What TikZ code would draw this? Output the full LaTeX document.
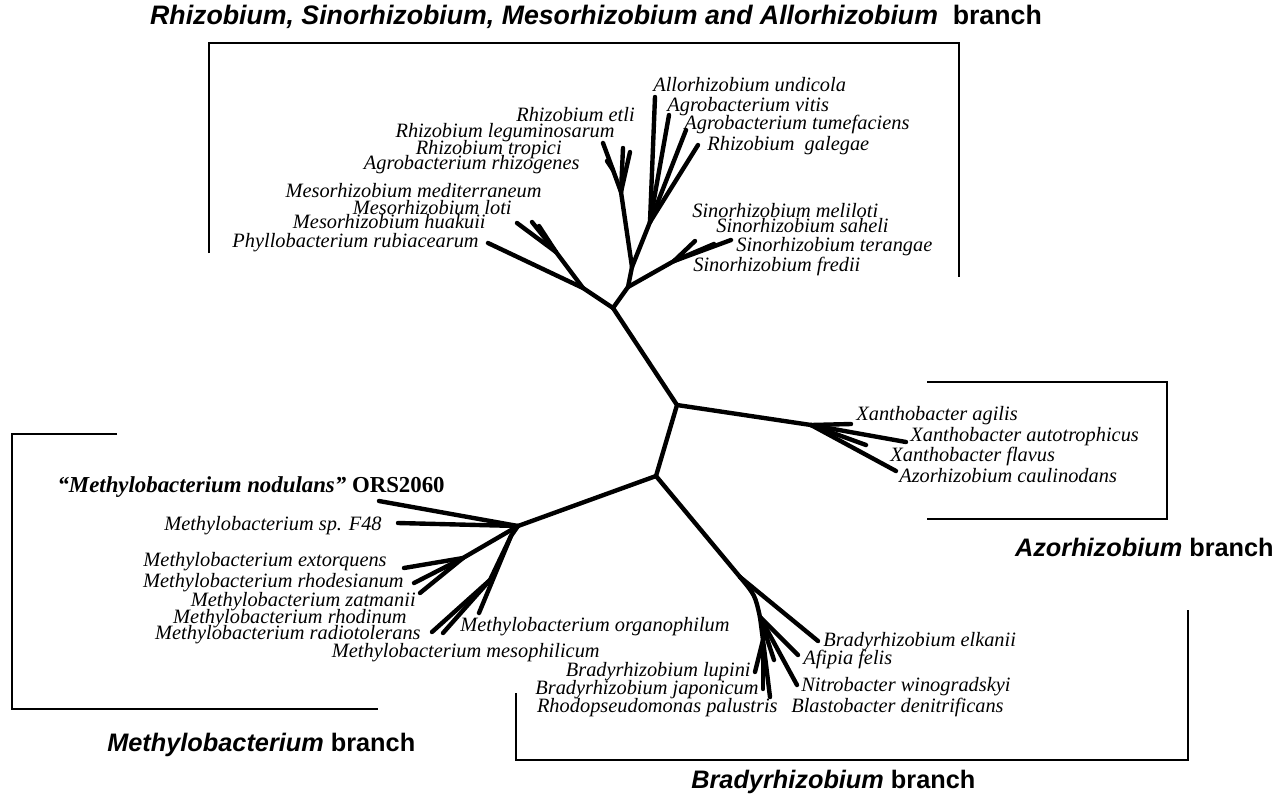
\documentclass[tikz,border=0pt]{standalone}
\usepackage{fontspec}
\setmainfont{Liberation Serif}
\setsansfont{Liberation Sans}
\begin{document}
\begin{tikzpicture}[x=0.02cm,y=-0.02cm,
  br/.style={line width=2.5pt, line cap=round, line join=round},
  box/.style={line width=0.8pt},
  lbl/.style={font=\fontsize{11.6}{12}\selectfont\itshape, inner sep=0pt},
  lL/.style={lbl, anchor=mid east},
  lR/.style={lbl, anchor=mid west},
  ttl/.style={font=\fontsize{14.4}{15}\selectfont\sffamily\bfseries, inner sep=0pt}]
\useasboundingbox (0,0) rectangle (1275,796);
% ---------- tree coordinates ----------
\coordinate (A) at (613,308);
\coordinate (Mj) at (583,288);
\coordinate (Ms) at (556,252);
\coordinate (Sn) at (628,287);
\coordinate (Rn) at (632,267);
\coordinate (Ej) at (621,192);
\coordinate (Es) at (613,170);
\coordinate (Ag) at (650,222);
\coordinate (Sj) at (674,261);
\coordinate (B) at (677,405);
\coordinate (X) at (811,425);
\coordinate (C) at (656,476);
\coordinate (D) at (518,526);
\coordinate (Dm) at (511,536);
\coordinate (Ex) at (463,558);
\coordinate (Rj) at (490,580);
\coordinate (N1) at (740,577);
\coordinate (N2) at (760,617);
\coordinate (N3) at (763,640);
% tips
\coordinate (tPhy) at (488,243);
\coordinate (tMe1) at (517,223);
\coordinate (tMe2) at (532,222);
\coordinate (tMe3) at (539,226);
\coordinate (tEt) at (603,143);
\coordinate (tLe) at (607,161);
\coordinate (tTr) at (623,148);
\coordinate (tRh) at (630,152);
\coordinate (tAl) at (655,97);
\coordinate (tVi) at (669,115);
\coordinate (tTu) at (686,130);
\coordinate (tGa) at (698,145);
\coordinate (tSm) at (695,241);
\coordinate (tSs) at (714,244);
\coordinate (tSt) at (731,240);
\coordinate (tXa) at (851,424);
\coordinate (tXu) at (906,442);
\coordinate (tXf) at (866,445);
\coordinate (tAz) at (896,471);
\coordinate (tOR) at (379,501);
\coordinate (tF4) at (398,523);
\coordinate (tEx) at (404,568);
\coordinate (tRd) at (414,583);
\coordinate (tZa) at (420,593);
\coordinate (tRo) at (432,632);
\coordinate (tRa) at (443,633);
\coordinate (tOr) at (479,613);
\coordinate (tEl) at (818,641);
\coordinate (tAf) at (798,655);
\coordinate (tNi) at (797,685);
\coordinate (tBl) at (774,660);
\coordinate (tLu) at (755,672);
\coordinate (tJa) at (763,689);
\coordinate (tPa) at (770,697);
% ---------- branches ----------
\draw[br] (A) -- (B) -- (C);
\draw[br] (B) -- (X);
\draw[br] (C) -- (D);
\draw[br] (C) -- (N1);
% Rhizobium group
\draw[br] (A) -- (Mj) -- (tPhy);
\draw[br] (Mj) -- (Ms) -- (tMe1);
\draw[br] (Ms) -- (tMe2);
\draw[br] (Ms) -- (tMe3);
\draw[br] (A) -- (Sn) -- (Rn) -- (Ej) -- (Es) -- (tEt);
\draw[br] (Es) -- (tLe);
\draw[br] (Ej) -- (tTr);
\draw[br] (Ej) -- (tRh);
\draw[br] (Rn) -- (Ag) -- (tAl);
\draw[br] (Ag) -- (tVi);
\draw[br] (Ag) -- (tTu);
\draw[br] (Ag) -- (tGa);
\draw[br] (Sn) -- (Sj) -- (tSm);
\draw[br] (Sj) -- (tSs);
\draw[br] (Sj) -- (tSt);
% Azorhizobium group
\draw[br] (X) -- (tXa);
\draw[br] (X) -- (tXu);
\draw[br] (X) -- (tXf);
\draw[br] (X) -- (tAz);
% Methylobacterium group
\draw[br] (D) -- (tOR);
\draw[br] (D) -- (tF4);
\draw[br] (D) -- (Ex) -- (tEx);
\draw[br] (Ex) -- (tRd);
\draw[br] (Ex) -- (tZa);
\draw[br] (D) -- (Dm) -- (Rj) -- (tRo);
\draw[br] (Rj) -- (tRa);
\draw[br] (Dm) -- (tOr);
% Bradyrhizobium group
\draw[br] (N1) -- (tEl);
\draw[br] (N1) .. controls (755,595) .. (N2) -- (N3);
\draw[br] (N2) -- (tAf);
\draw[br] (N2) -- (tNi);
\draw[br] (N2) -- (tBl);
\draw[br] (N3) -- (tLu);
\draw[br] (N3) -- (tJa);
\draw[br] (N3) -- (tPa);
% ---------- brackets ----------
\coordinate (b1a) at (209,253); \coordinate (b1b) at (209,43);
\coordinate (b1c) at (959,43); \coordinate (b1d) at (959,277);
\draw[box] (b1a) -- (b1b) -- (b1c) -- (b1d);
\coordinate (b2a) at (927,382); \coordinate (b2b) at (1167,382);
\coordinate (b2c) at (1167,519); \coordinate (b2d) at (927,519);
\draw[box] (b2a) -- (b2b) -- (b2c) -- (b2d);
\coordinate (b3a) at (117,434); \coordinate (b3b) at (12,434);
\coordinate (b3c) at (12,709); \coordinate (b3d) at (378,709);
\draw[box] (b3a) -- (b3b) -- (b3c) -- (b3d);
\coordinate (b4a) at (516,693); \coordinate (b4b) at (516,760);
\coordinate (b4c) at (1188,760); \coordinate (b4d) at (1188,610);
\draw[box] (b4a) -- (b4b) -- (b4c) -- (b4d);
% ---------- titles ----------
\node[ttl, font=\fontsize{15.2}{16}\selectfont\sffamily\bfseries] (T1) at (596,17) {\itshape Rhizobium, Sinorhizobium, Mesorhizobium and Allorhizobium\upshape\ \ branch};
\node[ttl, anchor=east] (T2) at (1274,547) {\itshape Azorhizobium\upshape\ branch};
\node[ttl, anchor=west] (T3) at (107,745) {\itshape Methylobacterium\upshape\ branch};
\node[ttl, anchor=west] (T4) at (691,782) {\itshape Bradyrhizobium\upshape\ branch};
% ---------- labels ----------
\node[lL] (lEt) at (635,117) {Rhizobium etli};
\node[lL] (lLe) at (615,133) {Rhizobium leguminosarum};
\node[lL] (lTr) at (562,150) {Rhizobium tropici};
\node[lL] (lRh) at (580,165) {Agrobacterium rhizogenes};
\node[lL] (lMm) at (542,193) {Mesorhizobium mediterraneum};
\node[lL] (lMl) at (512,210) {Mesorhizobium loti};
\node[lL] (lMh) at (486,224) {Mesorhizobium huakuii};
\node[lL] (lPh) at (479,243) {Phyllobacterium rubiacearum};
\node[lR] (lAl) at (653,87) {Allorhizobium undicola};
\node[lR] (lVi) at (667,107) {Agrobacterium vitis};
\node[lR] (lTu) at (684,125) {Agrobacterium tumefaciens};
\node[lR] (lGa) at (707,146) {Rhizobium\ \ galegae};
\node[lR] (lSm) at (692,213) {Sinorhizobium meliloti};
\node[lR] (lSs) at (716,228) {Sinorhizobium saheli};
\node[lR] (lSt) at (736,247) {Sinorhizobium terangae};
\node[lR] (lSf) at (693,267) {Sinorhizobium fredii};
\node[lR] (lXa) at (856,416) {Xanthobacter agilis};
\node[lR] (lXu) at (910,437) {Xanthobacter autotrophicus};
\node[lR] (lXf) at (890,457) {Xanthobacter flavus};
\node[lR] (lAz) at (899,478) {Azorhizobium caulinodans};
\node[lL, font=\fontsize{13}{14}\selectfont\bfseries] (lOR) at (445,488) {\itshape “Methylobacterium nodulans”\upshape\ ORS2060};
\node[lL] (lF4) at (382,526) {Methylobacterium sp. F48};
\node[lL] (lEx) at (387,562) {Methylobacterium extorquens};
\node[lL] (lRd) at (404,583) {Methylobacterium rhodesianum};
\node[lL] (lZa) at (416,602) {Methylobacterium zatmanii};
\node[lL] (lRo) at (407,619) {Methylobacterium rhodinum};
\node[lL] (lRa) at (421,635) {Methylobacterium radiotolerans};
\node[lR] (lOr) at (460,627) {Methylobacterium organophilum};
\node[lL] (lMs) at (600,653) {Methylobacterium mesophilicum};
\node[lR] (lEl) at (823,642) {Bradyrhizobium elkanii};
\node[lR] (lAf) at (803,660) {Afipia felis};
\node[lR] (lNi) at (801,687) {Nitrobacter winogradskyi};
\node[lR] (lBl) at (791,708) {Blastobacter denitrificans};
\node[lL] (lLu) at (751,672) {Bradyrhizobium lupini};
\node[lL] (lJa) at (759,690) {Bradyrhizobium japonicum};
\node[lL] (lPa) at (778,708) {Rhodopseudomonas palustris};
\end{tikzpicture}
\end{document}
